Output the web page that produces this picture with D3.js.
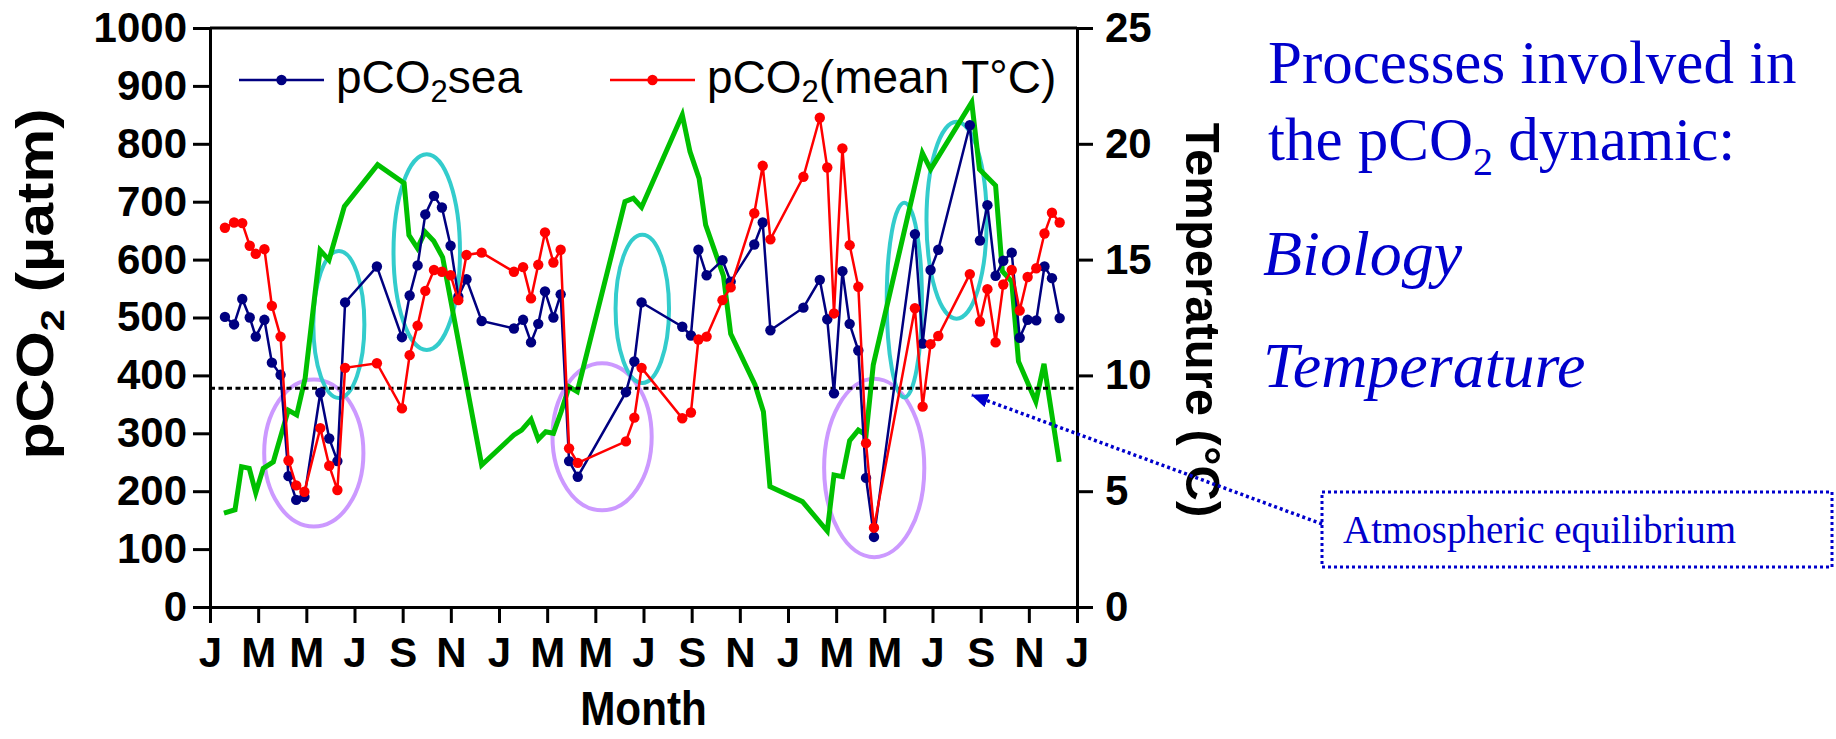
<!DOCTYPE html>
<html>
<head>
<meta charset="utf-8">
<script src="https://cdn.jsdelivr.net/npm/d3@7"></script>
<style>
  body { margin: 0; background: #fff; }
  svg { display: block; }
</style>
</head>
<body>
<div id="graph"></div>
<script>
//Size of the picture and of the plot box.
let w = 1836;
let h = 739;
let plotLeft = 210;
let plotRight = 1077;
let plotTop = 28;
let plotBottom = 607;

//Month ticks (months since the first January) and their labels.
const monthTicks = d3.range(0, 37, 2);
const monthLabels = ["J", "M", "M", "J", "S", "N", "J", "M", "M", "J", "S", "N", "J", "M", "M", "J", "S", "N", "J"];
const pco2Ticks = d3.range(0, 1001, 100);
const tempTicks = d3.range(0, 26, 5);

//Sampling dates in months, shared by both pCO2 series.
const sampleMonths = [0.62, 1.0, 1.34, 1.65, 1.90, 2.26, 2.57, 2.93, 3.26, 3.58,
  3.92, 4.58, 4.95, 5.29, 5.61, 6.93, 7.97, 8.29, 8.62, 8.94,
  9.30, 9.63, 9.99, 10.31, 10.65, 11.28, 12.62, 13.0, 13.33, 13.63,
  13.91, 14.26, 14.56, 14.91, 15.27, 17.27, 17.62, 17.92, 19.61, 19.97,
  20.28, 20.62, 21.28, 21.62, 22.6, 22.95, 23.27, 24.64, 25.32, 25.63,
  25.91, 26.26, 26.56, 26.92, 27.24, 27.57, 29.27, 29.59, 29.92, 30.24,
  31.55, 31.97, 32.28, 32.62, 32.94, 33.29, 33.62, 33.95, 34.31, 34.65, 34.96, 35.28];

//pCO2sea (µatm)
const pco2Sea = [501, 488, 532, 500, 467, 496, 422, 401, 226, 185,
  190, 370, 291, 252, 526, 588, 466, 538, 590, 678,
  710, 690, 624, 536, 566, 494, 481, 496, 457, 489,
  545, 500, 540, 252, 225, 371, 424, 526, 484, 469,
  617, 573, 599, 562, 626, 664, 478, 517, 565, 497,
  369, 580, 489, 443, 223, 121, 644, 455, 582, 617,
  832, 633, 694, 572, 598, 612, 465, 496, 495, 588, 568, 499];

//pCO2 at mean temperature (µatm)
const pco2MeanT = [655, 664, 663, 624, 610, 618, 520, 467, 253, 210,
  199, 309, 244, 202, 413, 421, 343, 435, 486, 546,
  582, 579, 573, 530, 608, 612, 579, 587, 533, 591,
  647, 595, 617, 274, 249, 286, 327, 413, 326, 336,
  462, 467, 530, 552, 680, 762, 635, 743, 845, 759,
  507, 792, 625, 553, 283, 137, 516, 346, 454, 468,
  575, 493, 549, 457, 557, 582, 512, 570, 585, 645, 681, 664];

//Water temperature (°C), right axis.
const tempMonths = [0.58, 1.04, 1.31, 1.63, 1.90, 2.21, 2.63, 3.25, 3.6, 3.95,
  4.57, 4.94, 5.58, 6.96, 8.06, 8.26, 8.61, 8.93, 9.29, 9.66,
  11.28, 12.62, 12.94, 13.33, 13.63, 13.94, 14.26, 14.58, 14.91, 15.25,
  17.23, 17.58, 17.92, 19.61, 19.93, 20.31, 20.58, 21.32, 21.62, 22.63,
  22.98, 23.25, 24.6, 25.63, 25.91, 26.26, 26.56, 26.92, 27.24, 27.54,
  29.58, 29.92, 31.63, 31.95, 32.62, 32.9, 33.29, 33.57, 34.29, 34.63, 35.26];
const tempValues = [4.05, 4.2, 6.06, 5.99, 4.93, 5.99, 6.27, 8.5, 8.29, 9.87,
  15.4, 14.98, 17.3, 19.1, 18.3, 16.06, 15.5, 16.2, 15.8, 15.1,
  6.13, 7.43, 7.64, 8.1, 7.24, 7.57, 7.5, 8.43, 9.51, 9.3,
  17.5, 17.65, 17.26, 21.25, 19.66, 18.5, 16.5, 14.3, 11.8, 9.6,
  8.43, 5.2, 4.55, 3.28, 5.7, 5.63, 7.18, 7.64, 7.43, 10.45,
  19.6, 18.9, 21.8, 18.9, 18.2, 14.5, 14.05, 10.6, 8.87, 10.5, 6.27];

//Atmospheric equilibrium level (µatm)
const atmLevel = 378;

//Circled episodes: centre month, centre pCO2, half width (months), half height (µatm).
const bioCircles = [[4.31, 266, 2.06, 127], [16.28, 294, 2.06, 127], [27.58, 240, 2.08, 154]];
const tempCircles = [[5.35, 488, 1.06, 127], [9.0, 613, 1.38, 169], [17.95, 515, 1.11, 128],
  [28.83, 530, 0.73, 168], [31.0, 668, 1.25, 170]];

let xScale
let yScale
let tScale

const sans = "'Liberation Sans', Arial, sans-serif";
const serif = "'Liberation Serif', 'Times New Roman', serif";
const blueText = "#0000cc";

const svg = d3.select("#graph")
  .append("svg")
  .attr("width", w)
  .attr("height", h)
  .attr("viewBox", "0 0 " + w + " " + h)

getScales();
drawCircles();
drawChart();
drawAxis();
drawLegend();
addLabels();
drawNotes();

function getScales() {
  xScale = d3.scaleLinear().domain([0, 36]).range([plotLeft, plotRight])
  yScale = d3.scaleLinear().domain([0, 1000]).range([plotBottom, plotTop])
  tScale = d3.scaleLinear().domain([0, 25]).range([plotBottom, plotTop])
}

//Ellipses that mark the biology and temperature episodes.
function drawCircles() {
  const draw = (list, color) => {
    svg.append("g")
      .selectAll("ellipse")
      .data(list)
      .enter()
      .append("ellipse")
      .attr("cx", d => xScale(d[0]))
      .attr("cy", d => yScale(d[1]))
      .attr("rx", d => xScale(d[0] + d[2]) - xScale(d[0]))
      .attr("ry", d => yScale(d[1] - d[3]) - yScale(d[1]))
      .attr("fill", "none")
      .attr("stroke", color)
      .attr("stroke-width", 4)
  }
  draw(bioCircles, "#cc99ff");
  draw(tempCircles, "#33cccc");
}

function drawChart() {
  //Temperature line
  const tempLine = d3.line()
    .x((d, i) => xScale(tempMonths[i]))
    .y(d => tScale(d))
  svg.append("path")
    .datum(tempValues)
    .attr("d", tempLine)
    .attr("fill", "none")
    .attr("stroke", "#00c000")
    .attr("stroke-width", 5)
    .attr("stroke-linejoin", "miter")

  //Dotted atmospheric line
  svg.append("line")
    .attr("x1", xScale(0))
    .attr("x2", xScale(36))
    .attr("y1", yScale(atmLevel))
    .attr("y2", yScale(atmLevel))
    .attr("stroke", "#000")
    .attr("stroke-width", 3)
    .attr("stroke-dasharray", "5,3.5")

  const series = [[pco2Sea, "#000080"], [pco2MeanT, "#ff0000"]];
  series.forEach(s => {
    const line = d3.line()
      .x((d, i) => xScale(sampleMonths[i]))
      .y(d => yScale(d))
    svg.append("path")
      .datum(s[0])
      .attr("d", line)
      .attr("fill", "none")
      .attr("stroke", s[1])
      .attr("stroke-width", 2.5)
    svg.append("g")
      .selectAll("circle")
      .data(s[0])
      .enter()
      .append("circle")
      .attr("cx", (d, i) => xScale(sampleMonths[i]))
      .attr("cy", d => yScale(d))
      .attr("r", 5.2)
      .attr("fill", s[1])
  })
}

function styleAxis(g) {
  g.attr("font-family", sans)
    .attr("font-size", 42)
    .attr("font-weight", "bold")
  g.selectAll("line").attr("stroke-width", 3)
  g.select(".domain").attr("stroke-width", 3).attr("stroke-linecap", "square")
  g.selectAll("text").attr("fill", "#000")
}

function drawAxis() {
  const yAxis = d3.axisLeft(yScale)
    .tickValues(pco2Ticks)
    .tickFormat(d3.format("d"))
    .tickSize(17)
    .tickSizeOuter(0)
    .tickPadding(6)
  const tAxis = d3.axisRight(tScale)
    .tickValues(tempTicks)
    .tickSize(16)
    .tickSizeOuter(0)
    .tickPadding(12)
  const xAxis = d3.axisBottom(xScale)
    .tickValues(monthTicks)
    .tickFormat((d, i) => monthLabels[i])
    .tickSize(16)
    .tickSizeOuter(0)
    .tickPadding(14)

  svg.append("g")
    .attr("transform", "translate(" + plotLeft + ",0)")
    .call(yAxis)
    .call(styleAxis)
  svg.append("g")
    .attr("transform", "translate(" + plotRight + ",0)")
    .call(tAxis)
    .call(styleAxis)
  svg.append("g")
    .attr("transform", "translate(0," + plotBottom + ")")
    .call(xAxis)
    .call(styleAxis)

  //top edge of the frame
  svg.append("line")
    .attr("x1", xScale(0))
    .attr("x2", xScale(36))
    .attr("y1", yScale(1000))
    .attr("y2", yScale(1000))
    .attr("stroke", "#000")
    .attr("stroke-width", 3)
}

function drawLegend() {
  const items = [
    { x: 239, color: "#000080", main: "pCO", tail: "sea" },
    { x: 610, color: "#ff0000", main: "pCO", tail: "(mean T°C)" }
  ];
  items.forEach(it => {
    svg.append("line")
      .attr("x1", it.x).attr("x2", it.x + 85)
      .attr("y1", 80).attr("y2", 80)
      .attr("stroke", it.color)
      .attr("stroke-width", 2.5)
    svg.append("circle")
      .attr("cx", it.x + 42.5).attr("cy", 80)
      .attr("r", 5.2)
      .attr("fill", it.color)
    const t = svg.append("text")
      .attr("x", it.x + 97)
      .attr("y", 93)
      .attr("font-family", sans)
      .attr("font-size", 46)
    t.append("tspan").text(it.main)
    t.append("tspan").attr("font-size", 31).attr("dy", 9).text("2")
    t.append("tspan").attr("dy", -9).text(it.tail)
  })
}

function addLabels() {
  //y-axis title (stretched along its length like the original)
  const yl = svg.append("text")
    .attr("transform", "translate(53,284) rotate(-90) scale(1.17,1)")
    .attr("text-anchor", "middle")
    .attr("font-family", sans)
    .attr("font-size", 52)
    .attr("font-weight", "bold")
  yl.append("tspan").text("pCO")
  yl.append("tspan").attr("font-size", 34).attr("dy", 11).text("2")
  yl.append("tspan").attr("dy", -11).text(" (µatm)")

  //right axis title
  svg.append("text")
    .attr("transform", "translate(1186,320) rotate(90)")
    .attr("text-anchor", "middle")
    .attr("font-family", sans)
    .attr("font-size", 49)
    .attr("font-weight", "bold")
    .text("Temperature (°C)")

  //x-axis title (narrow face)
  svg.append("text")
    .attr("transform", "translate(" + ((plotLeft + plotRight) / 2) + ",725) scale(0.88,1)")
    .attr("text-anchor", "middle")
    .attr("font-family", sans)
    .attr("font-size", 48)
    .attr("font-weight", "bold")
    .text("Month")
}

function drawNotes() {
  const note = svg.append("g")
    .attr("font-family", serif)
    .attr("fill", blueText)

  note.append("text").attr("x", 1268).attr("y", 83).attr("font-size", 61).text("Processes involved in")
  const l2 = note.append("text").attr("x", 1268).attr("y", 160).attr("font-size", 61)
  l2.append("tspan").text("the pCO")
  l2.append("tspan").attr("font-size", 40).attr("dy", 15).text("2")
  l2.append("tspan").attr("dy", -15).text(" dynamic:")
  note.append("text").attr("x", 1263).attr("y", 275).attr("font-size", 64).attr("font-style", "italic").text("Biology")
  note.append("text").attr("x", 1263).attr("y", 387).attr("font-size", 64).attr("font-style", "italic").text("Temperature")

  //Atmospheric equilibrium box and arrow
  svg.append("rect")
    .attr("x", 1322).attr("y", 492)
    .attr("width", 510).attr("height", 75)
    .attr("fill", "none")
    .attr("stroke", blueText)
    .attr("stroke-width", 3)
    .attr("stroke-dasharray", "3,3")
  svg.append("text")
    .attr("x", 1343).attr("y", 543)
    .attr("font-family", serif)
    .attr("font-size", 39)
    .attr("fill", blueText)
    .text("Atmospheric equilibrium")

  svg.append("defs").append("marker")
    .attr("id", "head")
    .attr("markerUnits", "userSpaceOnUse")
    .attr("viewBox", "0 0 17 14")
    .attr("markerWidth", 17).attr("markerHeight", 14)
    .attr("refX", 16).attr("refY", 7)
    .attr("orient", "auto")
    .append("path")
    .attr("d", "M0,0L17,7L0,14Z")
    .attr("fill", blueText)

  svg.append("line")
    .attr("x1", 1322).attr("y1", 524)
    .attr("x2", xScale(31.64)).attr("y2", yScale(366))
    .attr("stroke", blueText)
    .attr("stroke-width", 3.5)
    .attr("stroke-dasharray", "3,3")
    .attr("marker-end", "url(#head)")
}
</script>
</body>
</html>
